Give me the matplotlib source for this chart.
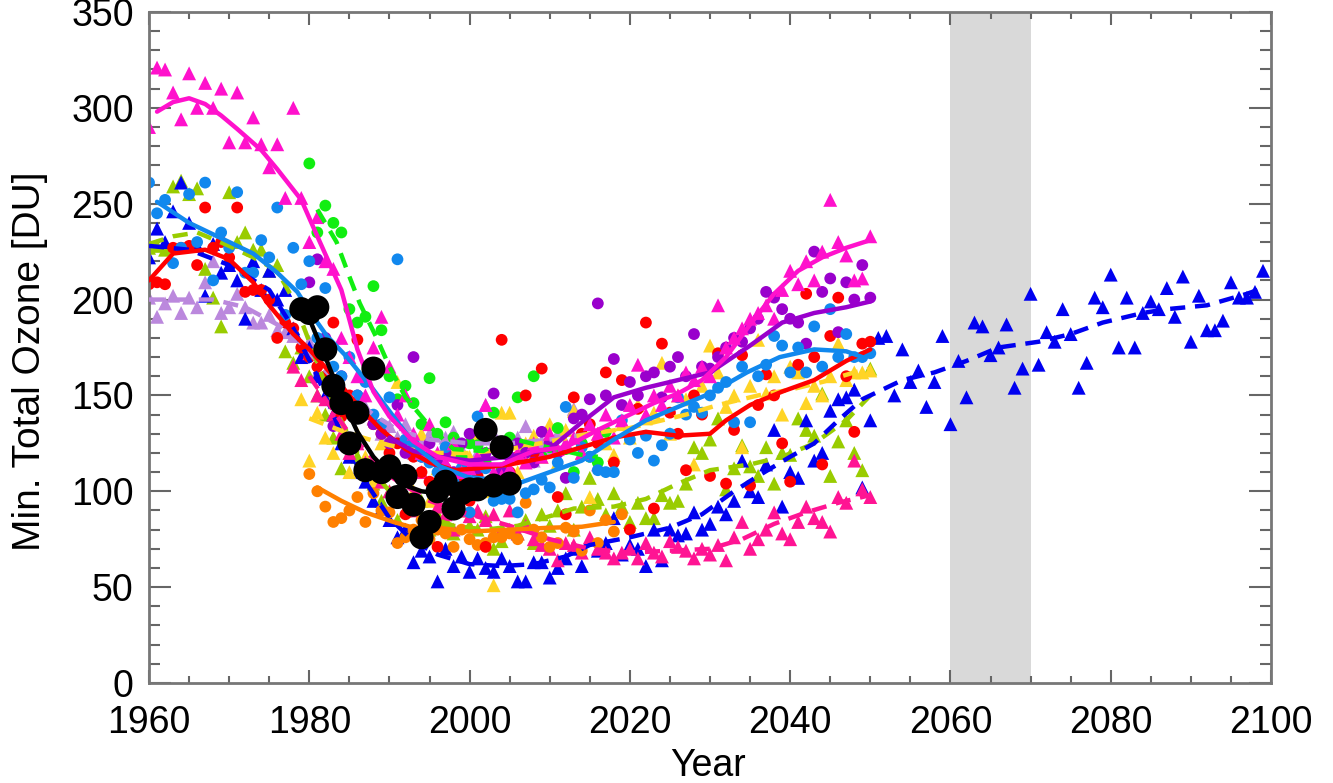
import numpy as np
import matplotlib.pyplot as plt

# ---- observations (big black dots) ----
obs_start = 1979
obs_vals = [195, 193, 196, 174, 155, 146, 125, 141, 111, 164, 110, 113, 97, 108,
            93, 76, 84, 100, 105, 91, 99, 101, 101, 132, 103, 123, 104]
obs_line_years = [1980, 1982, 1984, 1986, 1988, 1990, 1992, 1994, 1996, 1998, 2000, 2002, 2004, 2005]
obs_line_vals = [190, 170, 149, 131, 118, 109, 103, 100, 99, 99, 100, 102, 104, 105]

# ---- models: yearly points ----
magenta_start = 1960
magenta_vals = [290, 321, 320, 308, 294, 318, 300, 313, 300, 310,
                282, 308, 282, 295, 281, 269, 281, 253, 300, 253,
                230, 243, 220, 216, 180, 170, 160, 150, 175, 191,
                165, 140, 150, 130, 120, 135, 120, 115, 125, 110,
                112, 118, 145, 110, 108, 112, 120, 115, 125, 118,
                130, 122, 125, 128, 120, 135, 130, 140, 128, 137,
                145, 166, 140, 150, 145, 155, 150, 162, 158, 165,
                160, 197, 175, 180, 185, 190, 193, 197, 190, 205,
                215, 208, 220, 210, 225, 252, 230, 223, 210, 211, 233]

deeppink_start = 1978
deeppink_vals = [165, 158,
                 172, 150, 148, 140, 130, 120, 125, 115, 110, 105,
                 100, 110, 95, 90, 110, 85, 92, 88, 80, 90,
                 87, 90, 85, 88, 80, 90, 78, 82, 75, 72,
                 70, 64, 73, 72, 68, 76, 70, 68, 65, 68,
                 70, 65, 73, 68, 66, 74, 71, 69, 65, 70,
                 67, 72, 64, 76, 84, 70, 75, 80, 89, 78,
                 75, 84, 92, 86, 84, 79, 97, 94, 116, 101, 97]

blue_start = 1960
blue_vals = [222, 237, 230, 246, 261, 240, 228, 202, 229, 214,
             218, 210, 190, 220, 205, 215, 200, 205, 185, 170,
             175, 160, 150, 140, 125, 118, 110, 105, 95, 91,
             85, 76, 80, 63, 69, 66, 53, 70, 61, 66,
             58, 65, 60, 58, 65, 61, 53, 53, 63, 63,
             55, 60, 65, 70, 61, 75, 69, 73, 86, 67,
             72, 70, 61, 80, 64, 80, 77, 78, 89, 80,
             83, 92, 88, 95, 116, 100, 97, 114, 132, 92,
             110, 107, 137, 116, 120, 142, 148, 149, 153, 102,
             137, 180, 181, 150, 174, 157, 163, 144, 157, 181,
             135, 168, 149, 188, 186, 171, 175, 187, 154, 164,
             203, 166, 183, 178, 195, 182, 154, 167, 201, 196,
             213, 175, 201, 175, 193, 199, 195, 206, 191, 212,
             178, 202, 184, 184, 189, 209, 201, 201, 204, 215]

ygreen_start = 1960
ygreen_vals = [227, 228, 226, 259, 262, 255, 258, 216, 201, 186,
               256, 230, 235, 226, 226, 215, 218, 173, 167, 175,
               160, 150, 140, 128, 112, 125, 118, 110, 104, 95,
               100, 85, 90, 78, 95, 80, 88, 85, 78, 90,
               82, 80, 87, 70, 74, 80, 78, 85, 73, 88,
               82, 90, 99, 80, 92, 107, 96, 88, 99, 92,
               84, 94, 86, 86, 98, 94, 95, 104, 123, 120,
               127, 138, 101, 112, 124, 113, 108, 123, 104, 120,
               119, 138, 132, 129, 151, 108, 126, 137, 120, 111, 164]

lavender_start = 1960
lavender_vals = [201, 191, 198, 202, 193, 201, 196, 209, 220, 193,
                 196, 203, 196, 188, 188, 192, 184, 183, 181, 170,
                 178, 162, 160, 150, 155, 148, 140, 144, 138, 130,
                 134, 128, 135, 120, 125, 130, 118, 128, 131, 122,
                 126, 120, 145, 130, 125, 120, 128, 134, 116, 126,
                 122, 130, 125, 143, 128, 135, 114]

yellow_start = 1979
yellow_vals = [148,
               116, 141, 128, 120, 135, 110, 130, 118, 105, 125,
               115, 157, 108, 100, 130, 95, 112, 105, 120, 98,
               118, 130, 100, 51, 141, 141, 110, 125, 129, 118,
               135, 115, 132, 142, 120, 97, 130, 125, 119, 135,
               128, 145, 138, 141, 167, 130, 150, 148, 114, 155,
               176, 162, 144, 150, 123, 155, 179, 151, 160, 140,
               165, 162, 146, 155, 150, 160, 177, 158, 162, 162, 163]

red_start = 1960
red_vals = [208, 209, 208, 227, 227, 228, 218, 248, 227, 230,
            222, 248, 204, 205, 205, 200, 180, 188, 185, 175,
            170, 165, 160, 188, 139, 150, 179, 140, 135, 130,
            120, 125, 88, 118, 110, 105, 71, 112, 100, 105,
            95, 108, 71, 100, 179, 110, 118, 150, 120, 164,
            125, 97, 88, 149, 130, 135, 125, 162, 115, 158,
            80, 143, 188, 91, 177, 141, 130, 111, 150, 140,
            108, 172, 104, 132, 171, 103, 145, 161, 150, 125,
            105, 166, 203, 170, 114, 181, 201, 160, 131, 177, 178]

dodger_start = 1960
dodger_vals = [261, 245, 252, 219, 227, 255, 230, 261, 210, 235,
               227, 256, 214, 214, 231, 222, 248, 192, 227, 208,
               220, 180, 206, 165, 160, 170, 150, 157, 140, 135,
               149, 221, 127, 125, 118, 115, 110, 123, 105, 112,
               89, 139, 112, 95, 96, 96, 89, 99, 101, 106,
               102, 115, 144, 107, 123, 118, 111, 110, 110, 137,
               127, 120, 129, 116, 124, 130, 149, 140, 144, 141,
               150, 154, 157, 136, 165, 136, 160, 166, 181, 176,
               162, 175, 162, 186, 165, 195, 170, 182, 170, 170, 172]

purple_start = 1980
purple_vals = [209, 221, 180, 134, 160, 145, 150, 140, 135, 130,
               125, 145, 120, 170, 118, 125, 115, 120, 110, 125,
               130, 112, 120, 151, 110, 118, 125, 120, 115, 131,
               125, 120, 107, 138, 140, 148, 198, 150, 169, 145,
               157, 150, 160, 162, 149, 165, 170, 160, 182, 165,
               164, 170, 175, 180, 178, 185, 190, 204, 201, 195,
               190, 188, 177, 225, 204, 211, 183, 209, 200, 218, 201]

green_start = 1980
green_vals = [271, 235, 249, 240, 235, 195, 188, 191, 207, 184,
              160, 148, 155, 146, 135, 159, 130, 136, 128, 118,
              125, 124, 115, 141, 112, 128, 149, 120, 160, 118,
              123, 133, 122, 110, 125, 118, 115, 131]

orange_start = 1980
orange_vals = [109, 100, 92, 84, 86, 90, 97, 84, 99, 90,
               89, 73, 76, 80, 85, 75, 80, 78, 71, 80,
               75, 72, 73, 76, 76, 78, 75, 94, 80, 76,
               71, 73, 81, 79, 69, 90, 73, 85, 79, 88]

# ---- models: smoothed curves ----
magenta_ly = [1961, 1963, 1965, 1967, 1969, 1971, 1974, 1976, 1979, 1981, 1984, 1986, 1988, 1990,
              1993, 1996, 2000, 2004, 2008, 2012, 2016, 2020, 2023, 2026, 2029, 2032, 2035, 2038,
              2041, 2044, 2047, 2050]
magenta_lv = [298, 303, 305, 302, 296, 289, 278, 268, 252, 233, 205, 174, 152, 139,
              126, 118, 114, 114, 121, 123, 132, 140, 146, 151, 158, 170, 187, 203,
              215, 222, 227, 231]
deeppink_ly = [1980, 1985, 1990, 1995, 2000, 2005, 2010, 2015, 2020, 2025, 2030, 2034, 2038, 2042, 2046, 2050]
deeppink_lv = [160, 130, 108, 95, 88, 82, 75, 70, 68, 69, 70, 75, 83, 89, 94, 98]
blue_ly = [1960, 1965, 1970, 1975, 1978, 1981, 1984, 1987, 1990, 1993, 1996, 2000, 2004, 2008, 2012,
           2015, 2020, 2025, 2029, 2033, 2036, 2040, 2043, 2046, 2049, 2054, 2058, 2062, 2066,
           2071, 2075, 2079, 2084, 2087, 2092, 2097, 2099]
blue_lv = [228, 226, 218, 205, 185, 160, 130, 105, 86, 74, 67, 62, 61, 62, 66,
           72, 76, 81, 88, 100, 108, 118, 125, 137, 148, 158, 162, 168, 175,
           178, 182, 188, 193, 195, 197, 203, 206]
ygreen_ly = [1960, 1963, 1966, 1970, 1973, 1976, 1978, 1980, 1983, 1986, 1990, 1994, 1998, 2002, 2006,
             2010, 2013, 2018, 2022, 2026, 2030, 2035, 2039, 2043, 2047, 2050]
ygreen_lv = [229, 233, 235, 228, 222, 215, 200, 178, 145, 120, 100, 88, 82, 80, 82,
             87, 91, 92, 96, 104, 111, 114, 118, 125, 137, 150]
lavender_ly = [1960, 1964, 1968, 1972, 1976, 1979, 1982, 1985, 1988, 1991, 1995, 2000, 2005, 2010, 2015]
lavender_lv = [200, 200, 200, 196, 187, 177, 163, 150, 140, 132, 127, 125, 125, 127, 130]
yellow_ly = [1980, 1985, 1990, 1995, 2000, 2005, 2010, 2015, 2020, 2023, 2027, 2031, 2036, 2040, 2044, 2048, 2050]
yellow_lv = [138, 130, 124, 120, 120, 122, 126, 130, 133, 136, 140, 145, 150, 153, 157, 162, 164]
red_ly = [1960, 1963, 1967, 1970, 1973, 1975, 1978, 1980, 1983, 1986, 1989, 1992, 1995, 1998, 2001,
          2005, 2010, 2014, 2018, 2022, 2026, 2030, 2032, 2035, 2039, 2043, 2047, 2050]
red_lv = [210, 224, 226, 221, 209, 197, 182, 174, 160, 145, 132, 122, 115, 111, 112,
          114, 118, 123, 128, 131, 129, 130, 137, 145, 152, 158, 168, 174]
dodger_ly = [1961, 1965, 1969, 1973, 1976, 1978.5, 1980.5, 1982.2, 1984.7, 1988, 1990.5, 1993.4, 1996.3,
             1999.7, 2003, 2006, 2010, 2014, 2018, 2022, 2026, 2030, 2034.6, 2038.7, 2043, 2047, 2049]
dodger_lv = [251, 240, 232, 224, 214, 204, 191, 181, 170, 153, 139, 123, 113,
             107.5, 106, 104, 110, 116, 127, 137, 144, 151, 162, 170, 174, 173, 170]
purple_ly = [1990, 1993, 1996, 2000, 2005, 2010, 2014, 2018, 2022, 2026, 2030, 2035, 2039, 2043, 2047, 2050]
purple_lv = [128, 121, 118, 116, 118, 122, 136, 149, 154, 158, 162, 176, 188, 193, 196, 199]
green_ly = [1981, 1983.4, 1985, 1986.3, 1988.4, 1990, 1992, 1995, 1998, 2001.7, 2004.7, 2009.7, 2014, 2016]
green_lv = [247, 230, 212, 198, 180, 165, 149, 134, 122, 121, 128, 123, 119, 118]
orange_ly = [1981, 1984, 1987, 1990.5, 1993, 1996, 2000, 2005, 2010, 2014, 2018]
orange_lv = [102, 95, 89, 84, 81, 81, 79, 80, 81, 81.5, 84]


def draw_model(ax, start, vals, ly, lv, color, marker, dashed):
    years = np.arange(start, start + len(vals))
    size = 100 if marker == '^' else 72
    ax.scatter(years, vals, s=size, c=color, marker=marker, edgecolors='none', zorder=2)
    ls = (0, (3.4, 2.2)) if dashed else '-'
    ax.plot(ly, lv, color=color, lw=3.2, linestyle=ls, solid_joinstyle='round',
            solid_capstyle='round', zorder=3)


def main():
    plt.rcParams['font.family'] = ['Liberation Sans', 'DejaVu Sans']
    fig = plt.figure(figsize=(13.33, 7.83), dpi=100)
    ax = fig.add_axes([0.1118, 0.1277, 0.8417, 0.857])

    ax.axvspan(2060, 2070, color='#d9d9d9', lw=0, zorder=0)

    draw_model(ax, lavender_start, lavender_vals, lavender_ly, lavender_lv, '#bb88dd', '^', True)
    draw_model(ax, ygreen_start, ygreen_vals, ygreen_ly, ygreen_lv, '#99cc00', '^', True)
    draw_model(ax, blue_start, blue_vals, blue_ly, blue_lv, '#0000f0', '^', True)
    draw_model(ax, yellow_start, yellow_vals, yellow_ly, yellow_lv, '#ffd426', '^', True)
    draw_model(ax, deeppink_start, deeppink_vals, deeppink_ly, deeppink_lv, '#ff1493', '^', True)
    draw_model(ax, orange_start, orange_vals, orange_ly, orange_lv, '#ff8000', 'o', False)
    draw_model(ax, green_start, green_vals, green_ly, green_lv, '#11ee11', 'o', True)
    draw_model(ax, red_start, red_vals, red_ly, red_lv, '#ff0000', 'o', False)
    draw_model(ax, purple_start, purple_vals, purple_ly, purple_lv, '#9900cc', 'o', False)
    draw_model(ax, dodger_start, dodger_vals, dodger_ly, dodger_lv, '#1188ee', 'o', False)
    draw_model(ax, magenta_start, magenta_vals, magenta_ly, magenta_lv, '#ff11cc', '^', False)

    obs_years = np.arange(obs_start, obs_start + len(obs_vals))
    ax.plot(obs_line_years, obs_line_vals, color='black', lw=3.2, zorder=4)
    ax.scatter(obs_years, obs_vals, s=300, c='black', edgecolors='none', zorder=5)

    ax.set_xlim(1960, 2100)
    ax.set_ylim(0, 350)
    ax.set_xticks(range(1960, 2101, 20))
    ax.set_xticks(range(1960, 2101, 5), minor=True)
    ax.set_yticks(range(0, 351, 50))
    ax.set_yticks(range(0, 351, 10), minor=True)
    ax.tick_params(which='both', direction='in', top=True, right=True,
                   color='#666666', width=1.5, labelsize=27)
    ax.tick_params(axis='x', which='major', length=9.5, pad=16)
    ax.tick_params(axis='x', which='minor', length=5)
    ax.tick_params(axis='y', which='major', length=16, pad=11)
    ax.tick_params(axis='y', which='minor', length=8)
    for sp in ax.spines.values():
        sp.set_color('#777777')
        sp.set_linewidth(2)

    fig.text(0.0225, 0.538, 'Min. Total Ozone [DU]', rotation=90,
             ha='center', va='center', fontsize=28)
    fig.text(0.531, 0.022, 'Year', ha='center', va='center', fontsize=27)

    fig.savefig('out.png', dpi=100)


if __name__ == "__main__":
    main()
